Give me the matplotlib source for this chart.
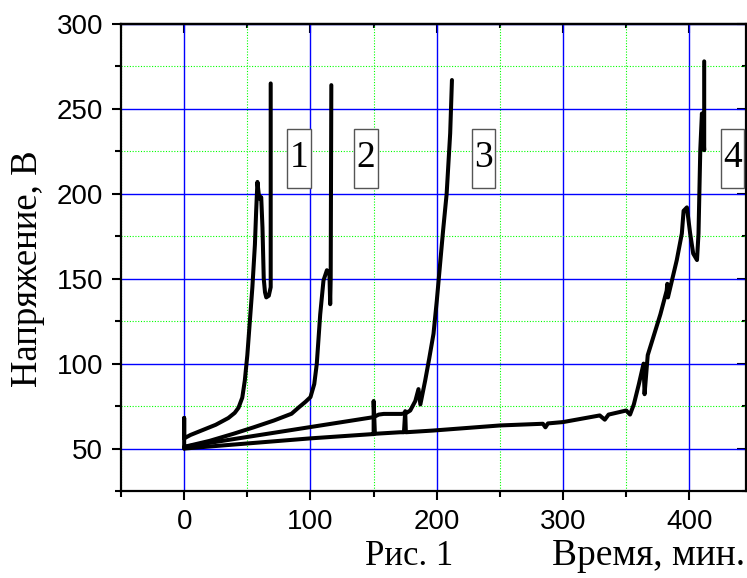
import numpy as np
import matplotlib.pyplot as plt
from matplotlib.path import Path
from matplotlib.ticker import MultipleLocator

# curve data (time, min ; voltage, V)
t1 = [0, 0, 0, 5, 15, 25, 35, 40, 43, 46, 48, 50, 52, 54, 56, 57, 58, 59, 60, 61, 62, 63, 64, 65, 67, 68.5, 68.5]
u1 = [50, 68, 56, 58, 61, 64, 68, 71, 74, 80, 90, 105, 125, 145, 170, 190, 207, 200, 197, 198, 180, 150, 142, 139, 140, 145, 265]

t2 = [0, 20, 39, 55, 71, 85, 91, 96, 100, 103, 105, 107.7, 110.3, 113, 115, 115.6, 116, 116.5]
u2 = [51, 54.5, 58.7, 62.5, 66.5, 70.5, 74.4, 77.5, 80.3, 88, 100, 129, 149, 155, 153, 135, 150, 264]

t3 = [0, 30, 60, 90, 120, 150, 154, 158, 165, 172, 176, 179, 183, 185.5, 187, 190.8, 194, 197.4, 200, 205, 207.8, 210.6, 212]
u3 = [51, 54.5, 58, 61.5, 65, 68.5, 70, 70.4, 70.4, 70.4, 71, 72.4, 78, 85, 76, 90, 103, 117.6, 137, 178.5, 200, 235.6, 267]

t4 = [0, 50, 100, 149, 150, 150, 151, 171, 174, 175, 175.5, 197, 250, 284, 286, 288, 300, 329, 333, 336, 350, 353,
      356, 360, 363.7, 364.5, 367, 377, 382, 382.5, 383, 390, 394, 395.4, 398, 400.6, 403, 406, 407.2, 408.6, 409.9,
      411.7, 411.7]
u4 = [50, 53, 56, 58.5, 58.5, 78, 58.7, 59.6, 59.6, 72, 59.6, 60.6, 63.6, 64.6, 62.5, 64.8, 65.6, 69.5, 67, 70, 72.4, 70,
      76, 88, 100, 82, 105, 129, 143, 147, 139, 161, 176.6, 190, 192, 176.6, 164.8, 161, 176.6, 225.7, 247.3,
      225.7, 278]

labels = ['1', '2', '3', '4']
label_x = [91, 144, 237, 434]
label_y = [221, 221, 221, 221]

plt.rcParams['font.family'] = ['Liberation Sans', 'DejaVu Sans']

fig = plt.figure(figsize=(7.47, 5.78), dpi=100)
ax = fig.add_axes([0.162, 0.1505, 0.837, 0.808])

ax.set_xlim(-50, 445)
ax.set_ylim(25, 300)
ax.xaxis.set_major_locator(MultipleLocator(100))
ax.xaxis.set_minor_locator(MultipleLocator(50))
ax.yaxis.set_major_locator(MultipleLocator(50))
ax.yaxis.set_minor_locator(MultipleLocator(25))
ax.set_yticks([50, 100, 150, 200, 250, 300])
ax.set_xticks([0, 100, 200, 300, 400])

ax.grid(which='major', color='#0000ff', linewidth=1.0, linestyle='-')
ax.grid(which='minor', color='#00ff00', linewidth=0.8, linestyle=(0, (1, 1.5)))
ax.set_axisbelow(True)

for s in ax.spines.values():
    s.set_linewidth(1.6)

ax.tick_params(which='both', labelsize=20, width=1.5, pad=6.5)
ax.tick_params(which='major', length=6.5)
ax.tick_params(which='minor', length=4)
ax.tick_params(axis='both', which='both', direction='out', top=False, right=False)
# inward ticks on top / right via secondary axes
axt = ax.secondary_xaxis('top')
axt.xaxis.set_major_locator(MultipleLocator(100))
axt.xaxis.set_minor_locator(MultipleLocator(50))
axt.tick_params(which='both', direction='in', labeltop=False, width=1.5)
axt.tick_params(which='major', length=6.5)
axt.tick_params(which='minor', length=3)
axt.spines['top'].set_linewidth(1.6)
axr = ax.secondary_yaxis('right')
axr.yaxis.set_major_locator(MultipleLocator(50))
axr.yaxis.set_minor_locator(MultipleLocator(25))
axr.tick_params(which='both', direction='in', labelright=False, width=1.5)
axr.tick_params(which='major', length=6.5)
axr.tick_params(which='minor', length=3)

for t, u in [(t1, u1), (t2, u2), (t3, u3), (t4, u4)]:
    ax.plot(t, u, color='black', linewidth=2.9, solid_joinstyle='round', solid_capstyle='round')


def tall_box(x0, y0, width, height, mutation_size):
    px = 0.06 * mutation_size
    py = 0.33 * mutation_size
    x0, y0 = x0 - px, y0 - py
    x1, y1 = x0 + width + 2 * px, y0 + height + 2 * py
    return Path([(x0, y0), (x1, y0), (x1, y1), (x0, y1), (x0, y0)], closed=True)


for s, x, y in zip(labels, label_x, label_y):
    ax.text(x, y, s, fontsize=27, family='Liberation Serif', ha='center', va='center',
            bbox=dict(boxstyle=tall_box, facecolor='white', edgecolor='#555555', linewidth=1.0))

fig.text(0.037, 0.536, 'Напряжение, В', rotation=90, fontsize=26.5, family='Liberation Serif',
         ha='center', va='center')
fig.text(0.997, 0.022, 'Время, мин.', fontsize=27, family='Liberation Serif', ha='right', va='baseline')
fig.text(0.4886, 0.022, 'Рис. 1', fontsize=25, family='Liberation Serif', ha='left', va='baseline')

fig.savefig('out.png', dpi=100)
